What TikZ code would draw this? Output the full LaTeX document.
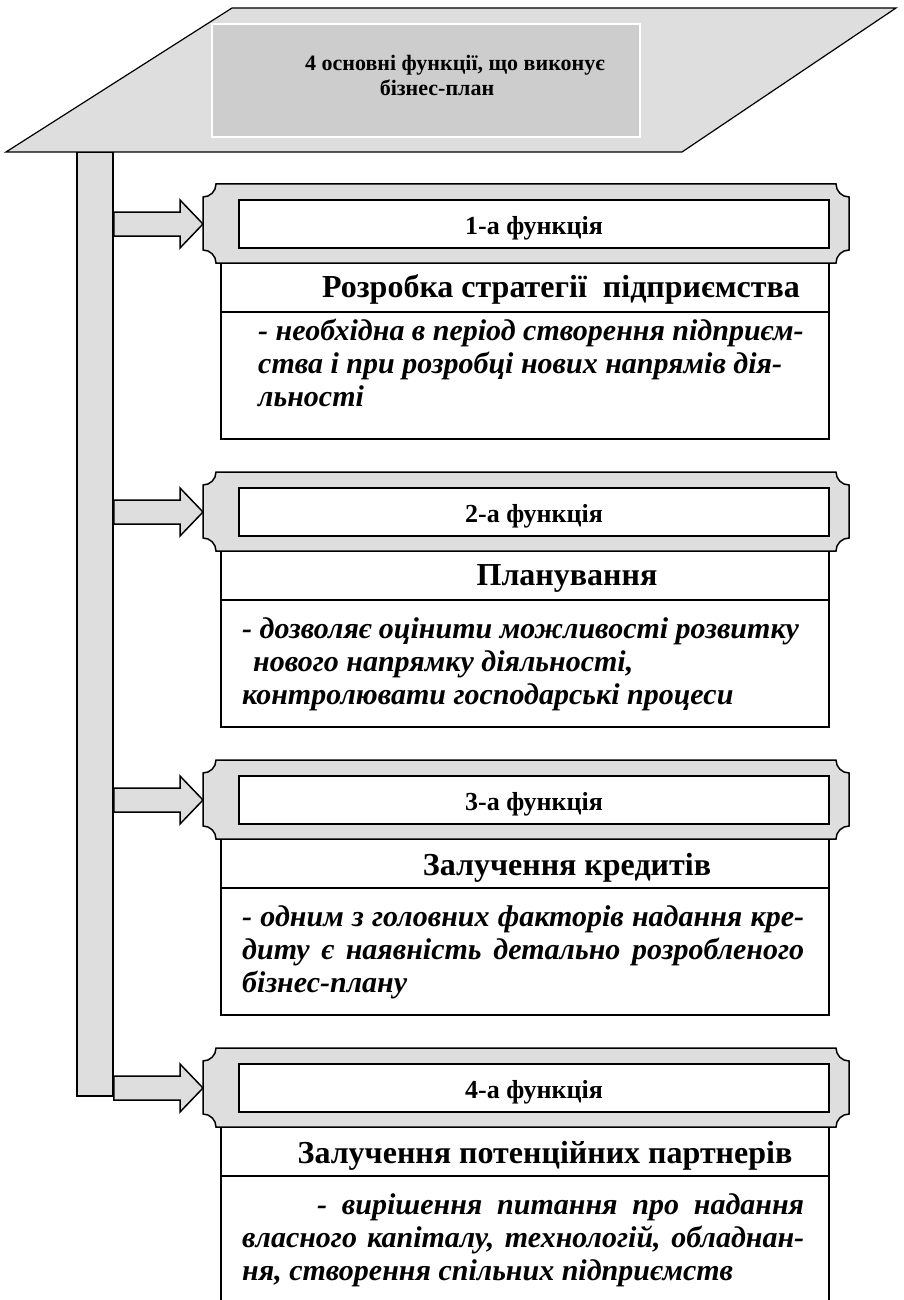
\documentclass[tikz,border=0pt]{standalone}
\usepackage{fontspec}
\setmainfont{Liberation Serif}
\usetikzlibrary{calc}
\definecolor{plategray}{HTML}{DEDEDE}
\definecolor{headgray}{HTML}{CDCDCD}
\newlength{\dsw}
\setlength{\dsw}{562pt}
\newcommand{\jline}[1]{\makebox[\dsw][s]{#1}}
\tikzset{
  plate/.style={draw=black, line width=1.5pt, fill=plategray},
  frame/.style={draw=black, line width=1.5pt},
  fnbox/.style={draw=black, line width=1.5pt, fill=white, inner sep=0pt,
    minimum width=590pt, minimum height=48pt, text height=20pt, text depth=0pt,
    font=\bfseries\fontsize{26}{30}\selectfont},
  ttl/.style={anchor=base, inner sep=0pt, font=\bfseries\fontsize{32}{36}\selectfont},
  desc/.style={anchor=base west, inner sep=0pt,
    font=\bfseries\itshape\fontsize{30}{33}\selectfont},
  headtxt/.style={anchor=base, inner sep=0pt, font=\bfseries\fontsize{22}{25}\selectfont}
}
\begin{document}
\begin{tikzpicture}[x=1pt, y=-1pt]
  \useasboundingbox (0,0) rectangle (904,1300);
  \fill[white] (0,0) rectangle (904,1300);
  % vertical bar
  \node[plate, inner sep=0pt, minimum width=36pt, minimum height=944pt] (bar) at (95,624) {};
  % heading
  \draw[plate, line width=1.2pt] (232,8) -- (896,8) -- (682,152) -- (6,152) -- cycle;
  \node[draw=white, line width=1.5pt, fill=headgray, minimum width=428pt,
    minimum height=113pt] (head) at (426,80.5) {};
  \node[headtxt] (head1) at (455,71) {4 основні функції, що виконує};
  \node[headtxt] (head2) at (437,96) {бізнес-план};
  % four function blocks
  \foreach \i in {1,...,4} {
    \pgfmathsetmacro{\T}{184+288*(\i-1)}
    \coordinate (pl\i) at (203,\T+40);
    \draw[plate] ($(bar.east |- pl\i)+(0,-12)$) -- ($(pl\i)+(-23,-12)$)
      -- ($(pl\i)+(-23,-24)$) -- (pl\i) -- ($(pl\i)+(-23,24)$)
      -- ($(pl\i)+(-23,12)$) -- ($(bar.east |- pl\i)+(0,12)$) -- cycle;
    \draw[frame, fill=white] (221,\T+79) rectangle (829,\T+255);
    \draw[frame] (221,\T+128) -- (829,\T+128);
    \draw[plate] (216,\T) -- (836,\T) arc[start angle=180, end angle=90, radius=13]
      -- (849,\T+66) arc[start angle=270, end angle=180, radius=13]
      -- (216,\T+79) arc[start angle=0, end angle=-90, radius=13]
      -- (203,\T+13) arc[start angle=90, end angle=0, radius=13] -- cycle;
    \node[fnbox] (fn\i) at (534,\T+40) {\i-а функція};
  }
  % titles
  \node[ttl] (tt1) at (561,297) {Розробка стратегії\ \ підприємства};
  \node[ttl] (tt2) at (567,585) {Планування};
  \node[ttl] (tt3) at (567,875) {Залучення кредитів};
  \node[ttl] (tt4) at (545,1163) {Залучення потенційних партнерів};
  % descriptions
  \node[desc] (ds1) at (258,340) {\parbox[t]{600pt}{\raggedright
    - необхідна в період створення підприєм-\\
    ства і при розробці нових напрямів дія-\\
    льності}};
  \node[desc] (ds2) at (242,638) {\parbox[t]{600pt}{\raggedright
    - дозволяє оцінити можливості розвитку\\
    \hspace*{11pt}нового напрямку діяльності,\\
    контролювати господарські процеси}};
  \node[desc] (ds3) at (242,926) {\parbox[t]{\dsw}{\raggedright
    \jline{- одним з головних факторів надання кре-}\\
    \jline{диту є наявність детально розробленого}\\
    бізнес-плану}};
  \node[desc] (ds4) at (242,1214) {\parbox[t]{\dsw}{\raggedright
    \hspace*{75pt}\makebox[487pt][s]{- вирішення питання про надання}\\
    \jline{власного капіталу, технологій, обладнан-}\\
    ня, створення спільних підприємств}};
\end{tikzpicture}
\end{document}
